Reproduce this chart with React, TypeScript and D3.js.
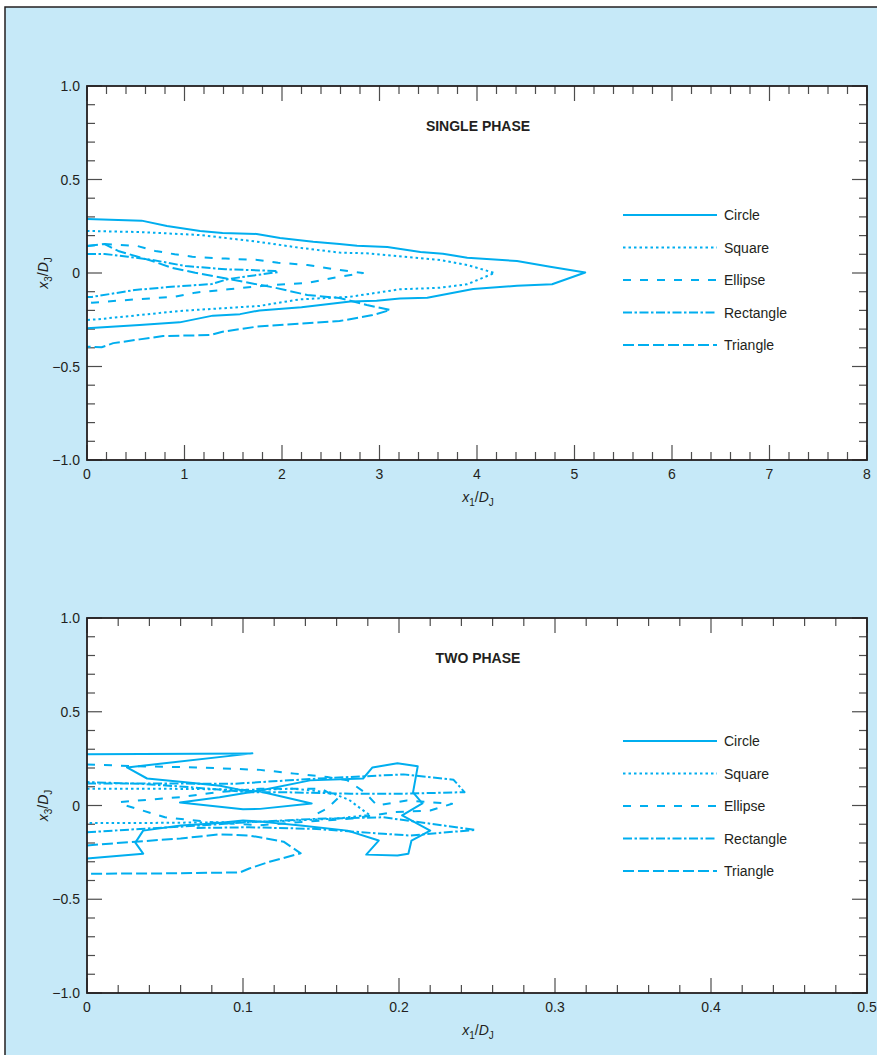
import React from "react";
import * as d3 from "d3";

// ---------- data (x1/DJ, x3/DJ) ----------
const seriesNames = ["Circle", "Square", "Ellipse", "Rectangle", "Triangle"];

const circleSingle = [[0,0.289],[0.56,0.28],[0.82,0.251],[1.16,0.225],[1.39,0.214],[1.74,0.209],[1.98,0.187],[2.32,0.167],[2.59,0.155],[2.77,0.146],[3.08,0.139],[3.42,0.112],[3.65,0.103],[3.9,0.082],[4.41,0.064],[4.75,0.034],[5.11,0.003],[4.77,-0.06],[4.41,-0.068],[3.96,-0.086],[3.49,-0.132],[3.21,-0.137],[2.97,-0.148],[2.7,-0.153],[2.2,-0.183],[1.77,-0.2],[1.57,-0.22],[1.29,-0.228],[0.95,-0.264],[0.54,-0.278],[0,-0.296]];
const squareSingle = [[0,0.225],[0.54,0.219],[1.16,0.203],[1.74,0.168],[2.18,0.135],[2.59,0.109],[2.87,0.105],[3.62,0.07],[3.9,0.043],[4.18,0.0],[3.9,-0.06],[3.62,-0.079],[3.21,-0.087],[2.7,-0.127],[2.18,-0.141],[1.77,-0.176],[0.95,-0.203],[0.54,-0.225],[0.1,-0.248],[0,-0.251]];
const ellipseSingle = [[0,0.144],[0.18,0.155],[0.52,0.144],[0.7,0.118],[0.9,0.1],[1.08,0.087],[1.42,0.077],[1.75,0.07],[1.96,0.055],[2.26,0.043],[2.59,0.016],[2.83,0],[2.52,-0.027],[2.26,-0.053],[2.03,-0.06],[1.79,-0.07],[1.45,-0.087],[1.11,-0.105],[0.9,-0.127],[0.49,-0.141],[0.05,-0.159],[0,-0.155]];
const rectangleSingle = [[0,0.102],[0.18,0.102],[0.42,0.087],[0.67,0.07],[1.01,0.037],[1.42,0.02],[1.93,0.011],[1.96,0.005],[1.45,-0.032],[1.28,-0.059],[0.83,-0.075],[0.49,-0.091],[0.05,-0.128],[0,-0.128]];
const triangleSingle = [[0,0.144],[0.18,0.155],[0.32,0.118],[0.67,0.064],[0.87,0.028],[1.11,0.001],[1.45,-0.032],[1.93,-0.079],[2.26,-0.118],[2.59,-0.134],[2.87,-0.171],[3.11,-0.198],[2.93,-0.225],[2.59,-0.257],[1.74,-0.287],[1.39,-0.314],[1.26,-0.332],[0.78,-0.337],[0.54,-0.355],[0.27,-0.375],[0.15,-0.397],[0,-0.394]];

const circleTwo = [[0,0.273],[0.106,0.278],[0.0256,0.203],[0.0385,0.144],[0.0615,0.125],[0.0853,0.105],[0.1,0.08],[0.111,0.075],[0.144,0.011],[0.111,-0.018],[0.1,-0.02],[0.0596,0.016],[0.085,0.044],[0.111,0.08],[0.143,0.134],[0.177,0.144],[0.183,0.203],[0.199,0.225],[0.212,0.209],[0.209,0.07],[0.215,0.011],[0.202,-0.053],[0.22,-0.134],[0.208,-0.187],[0.206,-0.257],[0.199,-0.267],[0.179,-0.262],[0.187,-0.187],[0.167,-0.134],[0.137,-0.107],[0.111,-0.086],[0.1,-0.08],[0.081,-0.096],[0.06,-0.107],[0.036,-0.134],[0.031,-0.198],[0.036,-0.257],[0,-0.283]];
const squareTwo = [[0,0.09],[0.04,0.09],[0.08,0.087],[0.11,0.083],[0.132,0.09],[0.156,0.07],[0.168,0.03],[0.176,-0.02],[0.181,-0.05],[0.16,-0.07],[0.12,-0.085],[0.08,-0.09],[0.04,-0.093],[0,-0.094]];
const ellipseTwo = [[0,0.219],[0.03,0.21],[0.07,0.203],[0.111,0.19],[0.133,0.17],[0.154,0.152],[0.167,0.134],[0.178,0.07],[0.186,0.0],[0.205,0.027],[0.234,0.009],[0.22,-0.027],[0.196,-0.036],[0.17,-0.07],[0.143,-0.085],[0.111,-0.105],[0.081,-0.09],[0.05,-0.063],[0.025,0.0],[0.021,0.018],[0.06,0.045],[0.085,0.072],[0.111,0.089],[0.15,0.09],[0.161,0.04],[0.154,-0.016],[0.143,-0.062]];
const rectangleTwoUpper = [[0,0.118],[0.05,0.117],[0.094,0.116],[0.147,0.143],[0.203,0.166],[0.235,0.137],[0.242,0.071],[0.203,0.063],[0.169,0.063],[0.126,0.071],[0.104,0.071],[0.066,0.098],[0.034,0.116],[0,0.125]];
const rectangleTwoLower = [[0,-0.143],[0.034,-0.125],[0.066,-0.11],[0.104,-0.089],[0.147,-0.071],[0.19,-0.063],[0.249,-0.13],[0.207,-0.16],[0.19,-0.151],[0.147,-0.125],[0.104,-0.116],[0.07,-0.12]];
const triangleTwo = [[0,-0.213],[0.031,-0.193],[0.06,-0.176],[0.085,-0.154],[0.104,-0.16],[0.126,-0.193],[0.137,-0.255],[0.117,-0.3],[0.104,-0.336],[0.098,-0.357],[0.05,-0.362],[0,-0.364]];

const yTickValues = [1, 0.5, 0, -0.5, -1];
const yTickLabels = ["1.0", "0.5", "0", "\u22120.5", "\u22121.0"];
const xTickSingle = [0, 1, 2, 3, 4, 5, 6, 7, 8];
const xLabelSingle = ["0", "1", "2", "3", "4", "5", "6", "7", "8"];
const xTickTwo = [0, 0.1, 0.2, 0.3, 0.4, 0.5];
const xLabelTwo = ["0", "0.1", "0.2", "0.3", "0.4", "0.5"];

// ---------- styles ----------
const BLUE = "#00AEEF";
const DASH: Record<string, string | undefined> = {
  Circle: undefined,
  Square: "2.5,3",
  Ellipse: "8,9",
  Rectangle: "9,2.5,2.5,2.5",
  Triangle: "11,4",
};
const FONT = "'Liberation Sans', Arial, Helvetica, sans-serif";
const TXT = "#231F20";

type Panel = {
  title: string;
  top: number;
  bottom: number;
  legendTop: number;
  xMax: number;
  xTicks: number[];
  xLabels: string[];
  xMinorStep: number;
  series: { name: string; segs: number[][][] }[];
};

const panels: Panel[] = [
  {
    title: "SINGLE PHASE",
    top: 86,
    bottom: 460,
    legendTop: 215,
    xMax: 8,
    xTicks: xTickSingle,
    xLabels: xLabelSingle,
    xMinorStep: 0.2,
    series: [
      { name: "Circle", segs: [circleSingle] },
      { name: "Square", segs: [squareSingle] },
      { name: "Ellipse", segs: [ellipseSingle] },
      { name: "Rectangle", segs: [rectangleSingle] },
      { name: "Triangle", segs: [triangleSingle] },
    ],
  },
  {
    title: "TWO PHASE",
    top: 618,
    bottom: 993,
    legendTop: 741,
    xMax: 0.5,
    xTicks: xTickTwo,
    xLabels: xLabelTwo,
    xMinorStep: 0.02,
    series: [
      { name: "Circle", segs: [circleTwo] },
      { name: "Square", segs: [squareTwo] },
      { name: "Ellipse", segs: [ellipseTwo] },
      { name: "Rectangle", segs: [rectangleTwoUpper, rectangleTwoLower] },
      { name: "Triangle", segs: [triangleTwo] },
    ],
  },
];

const LEFT = 87;
const RIGHT = 867;
const MAJ = 15;
const MIN = 8;

function PanelView({ p }: { p: Panel }) {
  const x = d3.scaleLinear().domain([0, p.xMax]).range([LEFT, RIGHT]);
  const y = d3.scaleLinear().domain([-1, 1]).range([p.bottom, p.top]);
  const line = d3
    .line<number[]>()
    .x((d) => x(d[0]))
    .y((d) => y(d[1]));

  const nMinorX = Math.round(p.xMax / p.xMinorStep);
  const minorX = d3.range(nMinorX + 1).map((i) => i * p.xMinorStep);
  const minorY = d3.range(21).map((i) => -1 + i * 0.1);
  const isMajorX = (v: number) => p.xTicks.some((t) => Math.abs(t - v) < 1e-9);
  const isMajorY = (v: number) => yTickValues.some((t) => Math.abs(t - v) < 1e-9);

  const midY = y(0);
  const legendRows = seriesNames.map((n, i) => ({ n, yy: p.legendTop + i * 32.5 }));

  return (
    <g>
      <rect x={LEFT} y={p.top} width={RIGHT - LEFT} height={p.bottom - p.top} fill="#fff" />
      {/* ticks */}
      <g stroke="#4d4d4d" strokeWidth={1.2}>
        {minorX.map((v, i) => {
          const len = isMajorX(v) ? MAJ : MIN;
          const xx = x(v);
          return (
            <g key={"x" + i}>
              <line x1={xx} x2={xx} y1={p.bottom} y2={p.bottom - len} />
              <line x1={xx} x2={xx} y1={p.top} y2={p.top + len} />
            </g>
          );
        })}
        {minorY.map((v, i) => {
          const len = isMajorY(v) ? MAJ : MIN;
          const yy = y(v);
          return (
            <g key={"y" + i}>
              <line x1={LEFT} x2={LEFT + len} y1={yy} y2={yy} />
              <line x1={RIGHT} x2={RIGHT - len} y1={yy} y2={yy} />
            </g>
          );
        })}
      </g>
      {/* series */}
      <g fill="none" stroke={BLUE} strokeWidth={2} strokeLinejoin="round">
        {p.series.map((s) =>
          s.segs.map((seg, j) => (
            <path key={s.name + j} d={line(seg) || ""} strokeDasharray={DASH[s.name]} />
          ))
        )}
      </g>
      {/* frame */}
      <rect x={LEFT} y={p.top} width={RIGHT - LEFT} height={p.bottom - p.top} fill="none" stroke="#231F20" strokeWidth={1.8} />
      {/* tick labels */}
      <g fontFamily={FONT} fontSize={14} fill={TXT}>
        {yTickValues.map((v, i) => (
          <text key={"yl" + i} x={80} y={y(v) + 5} textAnchor="end">
            {yTickLabels[i]}
          </text>
        ))}
        {p.xTicks.map((v, i) => (
          <text key={"xl" + i} x={x(v)} y={p.bottom + 19} textAnchor="middle">
            {p.xLabels[i]}
          </text>
        ))}
      </g>
      {/* axis titles */}
      <text x={478} y={p.bottom + 42} textAnchor="middle" fontFamily={FONT} fontSize={14} fill={TXT}>
        <tspan fontStyle="italic">x</tspan>
        <tspan fontSize={10} dy={4}>1</tspan>
        <tspan dy={-4}>/</tspan>
        <tspan fontStyle="italic">D</tspan>
        <tspan fontSize={10} dy={4}>J</tspan>
      </text>
      <text
        transform={`translate(48,${midY}) rotate(-90)`}
        textAnchor="middle"
        fontFamily={FONT}
        fontSize={14}
        fill={TXT}
      >
        <tspan fontStyle="italic">x</tspan>
        <tspan fontSize={10} dy={4}>3</tspan>
        <tspan dy={-4}>/</tspan>
        <tspan fontStyle="italic">D</tspan>
        <tspan fontSize={10} dy={4}>J</tspan>
      </text>
      {/* title */}
      <text x={478} y={p.top + 45} textAnchor="middle" fontFamily={FONT} fontSize={14} fontWeight="bold" fill={TXT}>
        {p.title}
      </text>
      {/* legend */}
      {legendRows.map((r) => (
        <g key={r.n}>
          <line x1={623} x2={717} y1={r.yy} y2={r.yy} stroke={BLUE} strokeWidth={2} strokeDasharray={DASH[r.n]} />
          <text x={724} y={r.yy + 5} fontFamily={FONT} fontSize={14} fill={TXT}>
            {r.n}
          </text>
        </g>
      ))}
    </g>
  );
}

export default function App() {
  return (
    <svg
      width={877}
      height={1055}
      style={{ position: "absolute", left: 0, top: 0, display: "block" }}
      xmlns="http://www.w3.org/2000/svg"
    >
      <rect x={0} y={0} width={877} height={1055} fill="#fff" />
      <rect x={5} y={7} width={900} height={1100} fill="#C6E9F8" stroke="#231F20" strokeWidth={1.5} />
      {panels.map((p) => (
        <PanelView key={p.title} p={p} />
      ))}
    </svg>
  );
}
